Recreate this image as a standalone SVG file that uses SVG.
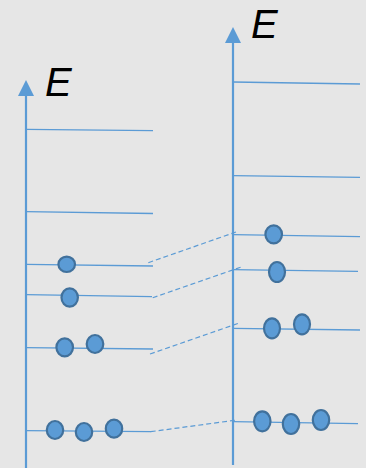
<svg xmlns="http://www.w3.org/2000/svg" width="366" height="468" viewBox="0 0 366 468">
  <style>
    .axis { stroke: #5B9BD5; stroke-width: 2.2; fill: none; }
    .level { stroke: #5B9BD5; stroke-width: 1.3; fill: none; }
    .link { stroke: #5B9BD5; stroke-width: 1.2; fill: none; stroke-dasharray: 5 3; }
    .e { fill: #5B9BD5; stroke: #41719C; stroke-width: 2.2; }
    .lbl { font-family: "Liberation Sans", Arial, sans-serif; font-style: italic; font-size: 40px; fill: #000; }
  </style>
  <defs>
    <marker id="arrow" viewBox="0 0 16 16" refX="0" refY="8" markerWidth="16" markerHeight="16" markerUnits="userSpaceOnUse" orient="auto">
      <path d="M0,0 L16,8 L0,16 Z" fill="#5B9BD5"/>
    </marker>
  </defs>
  <rect width="366" height="468" fill="#E6E6E6"/>

  <!-- left energy diagram -->
  <g id="left-axis">
    <line class="axis" x1="26" y1="468" x2="26" y2="96" marker-end="url(#arrow)"/>
    <text class="lbl" x="45" y="96">E</text>
  </g>
  <g id="left-levels">
    <line class="level" x1="26" y1="129.3" x2="153" y2="130.7"/>
    <line class="level" x1="26" y1="211.7" x2="153" y2="213.5"/>
    <line class="level" x1="26" y1="264.3" x2="153" y2="266"/>
    <line class="level" x1="26" y1="294.7" x2="152" y2="296.7"/>
    <line class="level" x1="26" y1="347.7" x2="153" y2="349"/>
    <line class="level" x1="26" y1="430.7" x2="151" y2="431.7"/>
  </g>
  <g id="left-electrons">
    <ellipse class="e" cx="66.7" cy="264.3" rx="8.3" ry="7.7"/>
    <ellipse class="e" cx="69.7" cy="297.5" rx="8.2" ry="9.2"/>
    <ellipse class="e" cx="64.7" cy="347.3" rx="8.3" ry="9"/>
    <ellipse class="e" cx="95" cy="344" rx="8.3" ry="9"/>
    <ellipse class="e" cx="55" cy="430" rx="8.2" ry="9"/>
    <ellipse class="e" cx="84" cy="432" rx="8.2" ry="9"/>
    <ellipse class="e" cx="114" cy="428.7" rx="8.2" ry="9"/>
  </g>

  <!-- right energy diagram -->
  <g id="right-axis">
    <line class="axis" x1="233" y1="465" x2="233" y2="43" marker-end="url(#arrow)"/>
    <text class="lbl" x="251" y="38">E</text>
  </g>
  <g id="right-levels">
    <line class="level" x1="233" y1="82" x2="360" y2="84"/>
    <line class="level" x1="233" y1="175.7" x2="360" y2="177.3"/>
    <line class="level" x1="233" y1="234.7" x2="360" y2="236.7"/>
    <line class="level" x1="233" y1="269.7" x2="358" y2="271.3"/>
    <line class="level" x1="233" y1="328.3" x2="360" y2="330"/>
    <line class="level" x1="233" y1="421.7" x2="358" y2="423.7"/>
  </g>
  <g id="right-electrons">
    <ellipse class="e" cx="273.7" cy="234.3" rx="8.3" ry="9"/>
    <ellipse class="e" cx="277" cy="272" rx="8" ry="10"/>
    <ellipse class="e" cx="272" cy="328.3" rx="8" ry="10"/>
    <ellipse class="e" cx="302" cy="324.3" rx="8" ry="10"/>
    <ellipse class="e" cx="262.3" cy="421.3" rx="8.2" ry="10"/>
    <ellipse class="e" cx="291" cy="424" rx="8.2" ry="10"/>
    <ellipse class="e" cx="321" cy="420" rx="8.2" ry="10"/>
  </g>

  <!-- level correspondences -->
  <g id="connectors">
    <line class="link" x1="148.3" y1="262.7" x2="236" y2="232"/>
    <line class="link" x1="152.7" y1="297.7" x2="242.3" y2="266.7"/>
    <line class="link" x1="150" y1="354" x2="240" y2="322.7"/>
    <line class="link" x1="150.7" y1="431.7" x2="236.7" y2="420"/>
  </g>
</svg>
